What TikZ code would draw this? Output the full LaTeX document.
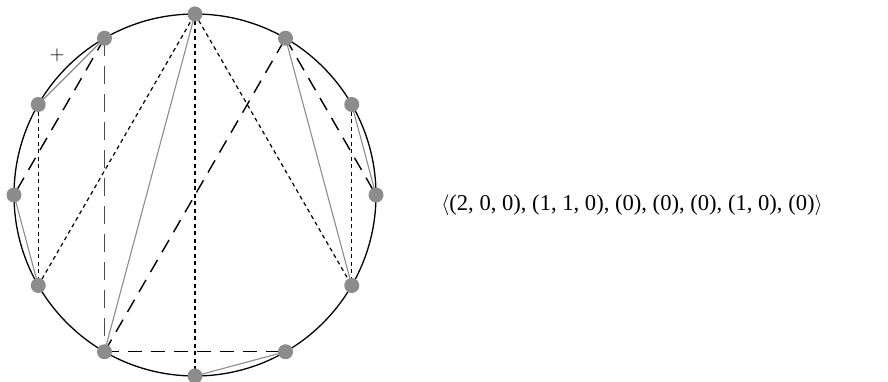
\documentclass[tikz,border=0pt]{standalone}
\usepackage{fontspec}
\setmainfont{Liberation Serif}
\begin{document}
\begin{tikzpicture}[x=1pt,y=1pt,
  dot/.style={circle,fill=black!45,inner sep=0pt,minimum size=15pt},
  rim/.style={line width=1.3pt,black},
  grayline/.style={line width=1.1pt,black!45},
  dotline/.style={line width=1.2pt,black,dash pattern=on 4pt off 3.5pt},
  longdash/.style={line width=1.4pt,black,dash pattern=on 14pt off 9pt},
  longdashgray/.style={line width=1.8pt,black!70,dash pattern=on 18pt off 10pt}]
\useasboundingbox (0,0) rectangle (888,382);
\coordinate (c) at (195,187);
\draw[rim] (c) circle (181);
\foreach \a in {0,30,...,330}{\coordinate (q\a) at ([shift={(\a:181)}]c);}
% gray solid
\draw[grayline] (q120) -- (q150);
\draw[grayline] (q180) -- (q210);
\draw[grayline] (q90) -- (q240);
\draw[grayline] (q60) -- (q330);
\draw[grayline] (q30) -- (q0);
\draw[grayline] (q300) -- (q270);
% dotted
\draw[dotline] (q150) -- (q210);
\draw[dotline] (q210) -- (q90);
\draw[dotline] (q90) -- (q270);
\draw[dotline] (q90) -- (q330);
\draw[dotline] (q30) -- (q330);
% long dashed
\draw[longdash] (q120) -- (q180);
\draw[longdashgray] (q120) -- (q240);
\draw[longdash] (q240) -- (q300);
\draw[longdash] (q240) -- (q60);
\draw[longdash] (q60) -- (q0);
\foreach \a in {0,30,...,330}{\node[dot] (d\a) at (q\a) {};}
\node[inner sep=0pt] (plus) at (57,327) {\fontsize{22}{22}\selectfont $+$};
\node[inner sep=0pt] (seq) at (632,177) {\fontsize{22.6}{26}\selectfont $\langle$(2, 0, 0), (1, 1, 0), (0), (0), (0), (1, 0), (0)$\rangle$};
\end{tikzpicture}
\end{document}
